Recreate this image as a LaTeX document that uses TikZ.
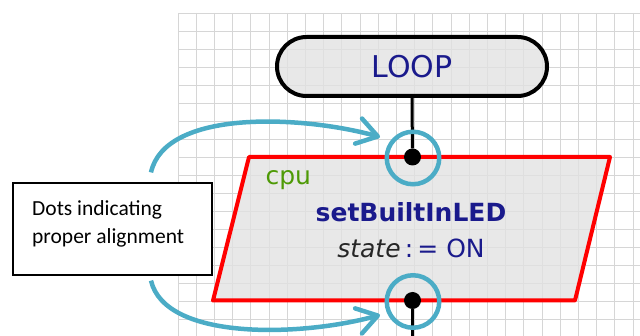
\documentclass[tikz,border=0pt]{standalone}
\usepackage{fontspec}
\setmainfont{DejaVu Sans}
\newfontfamily\notefont{Carlito}
\usetikzlibrary{arrows.meta}
\definecolor{calloutblue}{HTML}{4BACC6}
\definecolor{cpugreen}{HTML}{4E9A06}
\definecolor{textnavy}{HTML}{1A1A8C}
\definecolor{gridgray}{HTML}{D6D6D6}
\definecolor{blockgray}{HTML}{E2E2E2}
\newcommand{\blockfont}{\fontsize{25}{30}\selectfont}

\begin{document}
\begin{tikzpicture}[x=1pt,y=-1pt,
  gridline/.style={draw=gridgray,line width=0.8pt},
  terminal/.style={draw=black,line width=4pt,fill=blockgray,fill opacity=0.8,text opacity=1,
    rounded corners=29.5pt,minimum width=270pt,minimum height=59pt,text=textnavy,
    font=\fontsize{30}{36}\selectfont},
  cpublock/.style={draw=red,line width=4pt,line join=round,fill=blockgray,fill opacity=0.8},
  linkdot/.style={circle,fill=black,inner sep=0pt,minimum size=17pt},
  ring/.style={circle,draw=calloutblue,line width=4.5pt,inner sep=0pt,minimum size=52.5pt},
  notebox/.style={draw=black,line width=1.2pt,fill=white,minimum width=199pt,minimum height=92pt},
  callarrow/.style={draw=calloutblue,line width=4.5pt,-{Straight Barb[length=20pt,width=26pt,round]}},
  wire/.style={draw=black,line width=3pt}]
  \useasboundingbox (0,0) rectangle (640,336);
  % background grid
  \foreach \i in {0,...,25}
    \draw[gridline] (178+18.2*\i,13) -- (178+18.2*\i,336);
  \foreach \j in {0,...,17}
    \draw[gridline] (178,13+18*\j) -- (640,13+18*\j);
  % flowchart blocks
  \node[terminal] (loop) at (412,66.5) {LOOP};
  \draw[cpublock] (249,157) -- (610,157) -- (575,300.5) -- (213,300.5) -- cycle;
  \node[anchor=base west,text=cpugreen,font=\blockfont] (owner) at (262,185) {cpu};
  \node[anchor=base,text=textnavy,font=\blockfont\bfseries] (call) at (411,221.5) {setBuiltInLED};
  \node[anchor=base,text=textnavy,font=\blockfont] (assign) at (411,258)
    {\textcolor{black!85}{\itshape state}\,:\,= ON};
  \node[linkdot] (inpin) at (412.5,157) {};
  \node[linkdot] (outpin) at (412.5,300.5) {};
  \coordinate (exit) at (412.5,336);
  \draw[wire] (loop.south) -- (inpin);
  \draw[wire] (outpin) -- (exit);
  % callout
  \node[ring] (inring) at (413,158) {};
  \node[ring] (outring) at (413,301.5) {};
  \node[notebox] (note) at (112.5,229) {};
  \node[anchor=north west,align=left,inner sep=0pt,font=\notefont\fontsize{21.5}{28}\selectfont]
    (notetext) at (32,200) {Dots indicating\\proper alignment};
  \draw[callarrow] ([xshift=38.5pt,yshift=10pt]note.north) .. controls +(14,-63) and +(-80,-22)
    .. ([xshift=-33pt,yshift=21pt]inring.center);
  \draw[callarrow] ([xshift=38.5pt,yshift=-5pt]note.south) .. controls +(14,60) and +(-80,22)
    .. ([xshift=-33pt,yshift=-13.5pt]outring.center);
\end{tikzpicture}
\end{document}
